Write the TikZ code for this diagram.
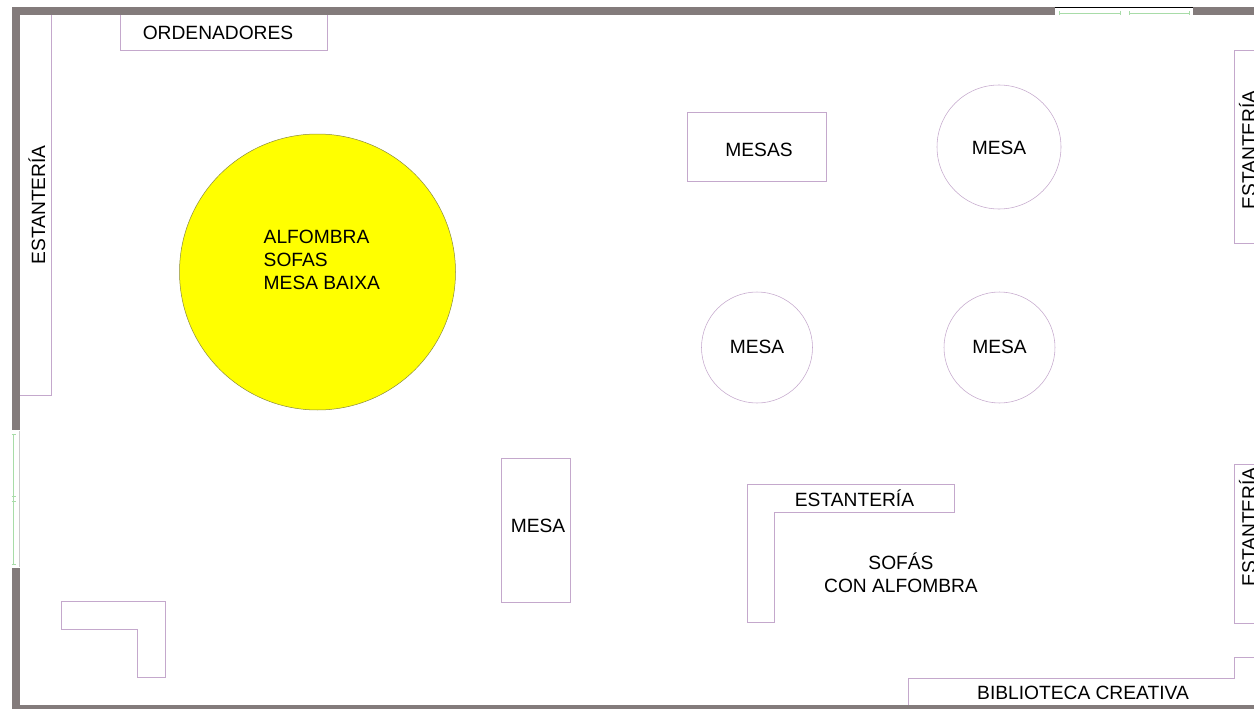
\documentclass[tikz,border=0pt]{standalone}
\usepackage{fontspec}
\setmainfont{Liberation Sans}
\definecolor{wallc}{HTML}{837B7B}
\definecolor{linec}{HTML}{C4A8CC}
\definecolor{winc}{HTML}{A8DCA8}
\definecolor{rugc}{HTML}{FFFF00}
\definecolor{rugedge}{HTML}{8A8A40}
\tikzset{
  furn/.style={draw=linec,line width=0.75pt},
  roundt/.style={draw=linec,line width=0.55pt},
  wallb/.style={fill=wallc,draw=none},
  winl/.style={draw=winc,line width=1pt},
  lab/.style={inner sep=0pt,font=\fontsize{19.2}{23}\selectfont,text=black,align=center},
  labl/.style={lab,align=left},
  labv/.style={lab,rotate=90}
}
\begin{document}
\begin{tikzpicture}[x=1pt,y=-1pt]
\useasboundingbox (0,0) rectangle (1254,709);
% walls
\fill[wallb] (12,7.5) rectangle (1254,15.5);
\fill[wallb] (12,7.5) rectangle (20,430);
\fill[wallb] (12,567.5) rectangle (20,709);
\fill[wallb] (12,705) rectangle (1254,709);
% top window
\fill[white] (1055,7) rectangle (1193,16);
\draw[black,line width=0.6pt] (1055,7.8) -- (1193,7.8);
\draw[winl] (1059,13.5) -- (1120,13.5) (1129,13.5) -- (1189,13.5);
\draw[winl] (1059,11.5) -- (1059,15.5) (1189,11.5) -- (1189,15.5) (1120,11.5) -- (1120,15.5) (1129,11.5) -- (1129,15.5);
% left window
\fill[white] (12,430) rectangle (20,567.5);
\draw[winl] (13.5,434) -- (13.5,564);
\draw[winl] (11.5,434) -- (15.5,434) (11.5,564) -- (15.5,564) (11.5,496) -- (15.5,496) (11.5,501) -- (15.5,501);
\draw[draw=black!20,line width=0.5pt] (19.5,431) -- (19.5,567);
% furniture
\draw[furn] (20,395.5) -- (51,395.5) -- (51,15.5);
\draw[furn] (120.5,15.5) -- (120.5,50.5) -- (327.5,50.5) -- (327.5,15.5);
\draw[furn] (687.5,112.5) rectangle (826,181.5);
\draw[furn] (501,458) rectangle (570.5,602.5);
\draw[furn] (774.5,622) -- (747,622) -- (747,484) -- (954.5,484) -- (954.5,512) -- (774.5,512) -- cycle;
\draw[furn] (61.5,601) -- (165,601) -- (165,677.5) -- (137.5,677.5) -- (137.5,629) -- (61.5,629) -- cycle;
\draw[furn] (1254,50.5) -- (1234.5,50.5) -- (1234.5,243) -- (1254,243);
\draw[furn] (1254,464) -- (1234.5,464) -- (1234.5,623) -- (1254,623);
\draw[furn] (908.5,705) -- (908.5,678.5) -- (1234.5,678.5) -- (1234.5,657.5) -- (1254,657.5);
% round tables
\draw[roundt] (999,147) circle[radius=62];
\draw[roundt] (757,347.5) circle[radius=55.5];
\draw[roundt] (999.5,347.5) circle[radius=55.5];
\fill[rugc,draw=rugedge,line width=0.5pt] (317.5,272) circle[radius=138];
% labels
\node[lab] (ord) at (218,33) {ORDENADORES};
\node[labv] (est1) at (37,205) {ESTANTERÍA};
\node[labl,anchor=west] (alf) at (263.5,260) {ALFOMBRA\\SOFAS\\MESA BAIXA};
\node[lab] (mesas) at (759,150) {MESAS};
\node[lab] (m1) at (999,148) {MESA};
\node[lab] (m2) at (757,347) {MESA};
\node[lab] (m3) at (999.5,347) {MESA};
\node[lab] (m4) at (538,525.5) {MESA};
\node[lab] (est2) at (854.5,498) {ESTANTERÍA};
\node[lab] (sof) at (901,572.5) {SOFÁS\\CON ALFOMBRA};
\node[lab] (bib) at (1083,692.5) {BIBLIOTECA CREATIVA};
\node[labv,anchor=south] (est3) at (1256,150) {ESTANTERÍA};
\node[labv,anchor=south] (est4) at (1256,527) {ESTANTERÍA};
\end{tikzpicture}
\end{document}
